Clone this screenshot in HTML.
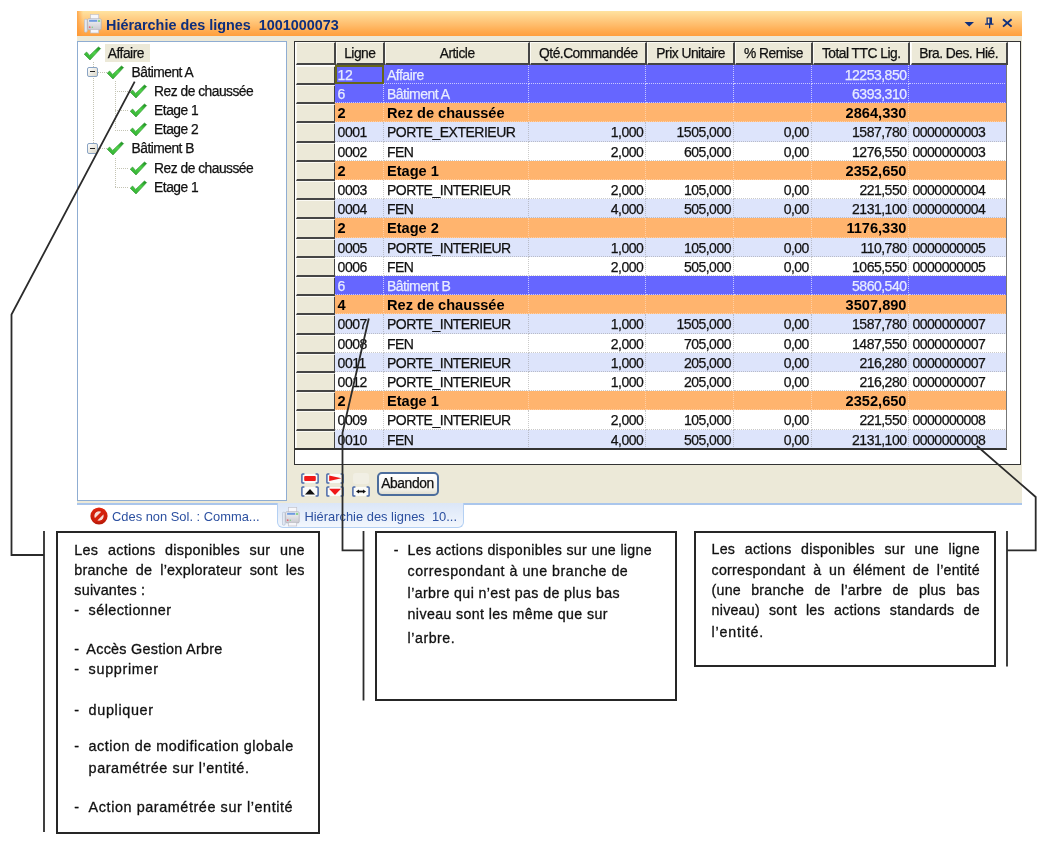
<!DOCTYPE html>
<html lang="fr"><head><meta charset="utf-8"><title>Hiérarchie des lignes</title>
<style>
html,body{margin:0;padding:0;background:#fff;}
body{width:1044px;height:842px;position:relative;overflow:hidden;font-family:"Liberation Sans",sans-serif;}
.a{position:absolute;}
.t{position:absolute;white-space:nowrap;font-size:13px;line-height:19px;color:#111;}
.hd{position:absolute;background:#ece9d8;box-sizing:border-box;border-style:solid;border-width:1px 2px 2px 1px;border-color:#fbfaf4 #454545 #454545 #fbfaf4;text-align:center;font-size:13.8px;letter-spacing:-0.5px;-webkit-text-stroke:0.25px;line-height:22.5px;color:#111;white-space:nowrap;}
.rh{position:absolute;background:#ece9d8;box-sizing:border-box;border-style:solid;border-width:1px 2px 2px 1px;border-color:#fbfaf4 #454545 #454545 #fbfaf4;}
.c{position:absolute;box-sizing:border-box;font-size:14px;letter-spacing:-0.5px;-webkit-text-stroke:0.25px;line-height:20.5px;white-space:nowrap;overflow:hidden;border-right:1px dotted rgba(150,150,150,.5);border-bottom:1px dotted rgba(150,150,150,.5);}
.blue{background:#6666ff;color:#e8ecff;}
.blue .c{border-color:rgba(225,225,255,.8);}
.orange{background:#ffb46e;color:#000;font-weight:bold;}
.orange .c{border-color:rgba(255,225,200,.6);font-size:14.6px;letter-spacing:0;-webkit-text-stroke:0;line-height:21px;}
.alt{background:#dde4fb;color:#111;}
.wht{background:#fff;color:#111;}
.r{text-align:right;}
.cal{position:absolute;white-space:nowrap;font-size:14.2px;letter-spacing:0.4px;line-height:20px;color:#111;-webkit-text-stroke:0.3px;}
.j{text-align:justify;text-align-last:justify;}
.box{position:absolute;box-sizing:border-box;border:2px solid #262626;background:#fff;}
.tr{position:absolute;white-space:nowrap;font-size:13.8px;letter-spacing:-0.5px;-webkit-text-stroke:0.25px;line-height:19px;color:#111;}
</style></head><body>

<div class="a" style="left:77px;top:10.5px;width:945px;height:25.5px;background:linear-gradient(#ffe3a0 0%,#ffd38c 22%,#ffbd6c 55%,#ffa84a 85%,#ff9f3e 100%);"></div>
<div class="a" style="left:106px;top:14.5px;font-weight:bold;font-size:14.4px;line-height:20px;color:#0f2f7c;white-space:pre;" id="ttl">Hiérarchie des lignes  1001000073</div>
<div class="a" style="left:77px;top:10.5px;width:6px;height:25.5px;background:linear-gradient(90deg,rgba(255,150,50,.75),rgba(255,150,50,0));"></div>
<div class="a" style="left:77px;top:36px;width:945px;height:467.4px;background:#ece9d8;"></div>
<div class="a" style="left:77px;top:503.2px;width:945px;height:2px;background:#aac6ec;"></div>
<div class="a" style="left:77px;top:40.5px;width:210.3px;height:460.5px;box-sizing:border-box;border:1.5px solid #8fadd2;background:#fff;"></div>
<div class="a" style="left:294px;top:41px;width:727px;height:424px;box-sizing:border-box;border:1.5px solid #333;background:#fff;"></div>
<div class="rh" style="left:295.5px;top:42.0px;width:40.1px;height:23.3px;"></div>
<div class="hd" style="left:335.6px;top:42.0px;width:49.4px;height:23.3px;">Ligne</div>
<div class="hd" style="left:385.0px;top:42.0px;width:145.3px;height:23.3px;">Article</div>
<div class="hd" style="left:530.3px;top:42.0px;width:117.1px;height:23.3px;">Qté.Commandée</div>
<div class="hd" style="left:647.4px;top:42.0px;width:87.6px;height:23.3px;">Prix Unitaire</div>
<div class="hd" style="left:735.0px;top:42.0px;width:77.9px;height:23.3px;">% Remise</div>
<div class="hd" style="left:812.9px;top:42.0px;width:97.6px;height:23.3px;">Total TTC Lig.</div>
<div class="hd" style="left:910.5px;top:42.0px;width:97.3px;height:23.3px;">Bra. Des. Hié.</div>
<div class="rh" style="left:295.5px;top:65.80px;width:40.1px;height:19.20px;"></div>
<div class="a blue" style="left:334.6px;top:64.80px;width:672.2px;height:19.20px;">
<div class="c" style="left:0.0px;top:0;width:49.4px;height:19.20px;padding-left:3px;">12</div>
<div class="c" style="left:49.4px;top:0;width:145.3px;height:19.20px;padding-left:3px;">Affaire</div>
<div class="c r" style="left:194.7px;top:0;width:117.1px;height:19.20px;padding-right:2px;"></div>
<div class="c r" style="left:311.8px;top:0;width:87.6px;height:19.20px;padding-right:2px;"></div>
<div class="c r" style="left:399.4px;top:0;width:77.9px;height:19.20px;padding-right:2px;"></div>
<div class="c r" style="left:477.3px;top:0;width:97.6px;height:19.20px;padding-right:2px;">12253,850</div>
<div class="c" style="left:574.9px;top:0;width:97.3px;height:19.20px;padding-left:3px;"></div>
</div>
<div class="rh" style="left:295.5px;top:85.00px;width:40.1px;height:19.20px;"></div>
<div class="a blue" style="left:334.6px;top:84.00px;width:672.2px;height:19.20px;">
<div class="c" style="left:0.0px;top:0;width:49.4px;height:19.20px;padding-left:3px;">6</div>
<div class="c" style="left:49.4px;top:0;width:145.3px;height:19.20px;padding-left:3px;">Bâtiment A</div>
<div class="c r" style="left:194.7px;top:0;width:117.1px;height:19.20px;padding-right:2px;"></div>
<div class="c r" style="left:311.8px;top:0;width:87.6px;height:19.20px;padding-right:2px;"></div>
<div class="c r" style="left:399.4px;top:0;width:77.9px;height:19.20px;padding-right:2px;"></div>
<div class="c r" style="left:477.3px;top:0;width:97.6px;height:19.20px;padding-right:2px;">6393,310</div>
<div class="c" style="left:574.9px;top:0;width:97.3px;height:19.20px;padding-left:3px;"></div>
</div>
<div class="rh" style="left:295.5px;top:104.20px;width:40.1px;height:19.20px;"></div>
<div class="a orange" style="left:334.6px;top:103.20px;width:672.2px;height:19.20px;">
<div class="c" style="left:0.0px;top:0;width:49.4px;height:19.20px;padding-left:3px;">2</div>
<div class="c" style="left:49.4px;top:0;width:145.3px;height:19.20px;padding-left:3px;">Rez de chaussée</div>
<div class="c r" style="left:194.7px;top:0;width:117.1px;height:19.20px;padding-right:2px;"></div>
<div class="c r" style="left:311.8px;top:0;width:87.6px;height:19.20px;padding-right:2px;"></div>
<div class="c r" style="left:399.4px;top:0;width:77.9px;height:19.20px;padding-right:2px;"></div>
<div class="c r" style="left:477.3px;top:0;width:97.6px;height:19.20px;padding-right:2px;">2864,330</div>
<div class="c" style="left:574.9px;top:0;width:97.3px;height:19.20px;padding-left:3px;"></div>
</div>
<div class="rh" style="left:295.5px;top:123.40px;width:40.1px;height:19.20px;"></div>
<div class="a alt" style="left:334.6px;top:122.40px;width:672.2px;height:19.20px;">
<div class="c" style="left:0.0px;top:0;width:49.4px;height:19.20px;padding-left:3px;">0001</div>
<div class="c" style="left:49.4px;top:0;width:145.3px;height:19.20px;padding-left:3px;">PORTE_EXTERIEUR</div>
<div class="c r" style="left:194.7px;top:0;width:117.1px;height:19.20px;padding-right:2px;">1,000</div>
<div class="c r" style="left:311.8px;top:0;width:87.6px;height:19.20px;padding-right:2px;">1505,000</div>
<div class="c r" style="left:399.4px;top:0;width:77.9px;height:19.20px;padding-right:2px;">0,00</div>
<div class="c r" style="left:477.3px;top:0;width:97.6px;height:19.20px;padding-right:2px;">1587,780</div>
<div class="c" style="left:574.9px;top:0;width:97.3px;height:19.20px;padding-left:3px;">0000000003</div>
</div>
<div class="rh" style="left:295.5px;top:142.60px;width:40.1px;height:19.20px;"></div>
<div class="a wht" style="left:334.6px;top:141.60px;width:672.2px;height:19.20px;">
<div class="c" style="left:0.0px;top:0;width:49.4px;height:19.20px;padding-left:3px;">0002</div>
<div class="c" style="left:49.4px;top:0;width:145.3px;height:19.20px;padding-left:3px;">FEN</div>
<div class="c r" style="left:194.7px;top:0;width:117.1px;height:19.20px;padding-right:2px;">2,000</div>
<div class="c r" style="left:311.8px;top:0;width:87.6px;height:19.20px;padding-right:2px;">605,000</div>
<div class="c r" style="left:399.4px;top:0;width:77.9px;height:19.20px;padding-right:2px;">0,00</div>
<div class="c r" style="left:477.3px;top:0;width:97.6px;height:19.20px;padding-right:2px;">1276,550</div>
<div class="c" style="left:574.9px;top:0;width:97.3px;height:19.20px;padding-left:3px;">0000000003</div>
</div>
<div class="rh" style="left:295.5px;top:161.80px;width:40.1px;height:19.20px;"></div>
<div class="a orange" style="left:334.6px;top:160.80px;width:672.2px;height:19.20px;">
<div class="c" style="left:0.0px;top:0;width:49.4px;height:19.20px;padding-left:3px;">2</div>
<div class="c" style="left:49.4px;top:0;width:145.3px;height:19.20px;padding-left:3px;">Etage 1</div>
<div class="c r" style="left:194.7px;top:0;width:117.1px;height:19.20px;padding-right:2px;"></div>
<div class="c r" style="left:311.8px;top:0;width:87.6px;height:19.20px;padding-right:2px;"></div>
<div class="c r" style="left:399.4px;top:0;width:77.9px;height:19.20px;padding-right:2px;"></div>
<div class="c r" style="left:477.3px;top:0;width:97.6px;height:19.20px;padding-right:2px;">2352,650</div>
<div class="c" style="left:574.9px;top:0;width:97.3px;height:19.20px;padding-left:3px;"></div>
</div>
<div class="rh" style="left:295.5px;top:181.00px;width:40.1px;height:19.20px;"></div>
<div class="a wht" style="left:334.6px;top:180.00px;width:672.2px;height:19.20px;">
<div class="c" style="left:0.0px;top:0;width:49.4px;height:19.20px;padding-left:3px;">0003</div>
<div class="c" style="left:49.4px;top:0;width:145.3px;height:19.20px;padding-left:3px;">PORTE_INTERIEUR</div>
<div class="c r" style="left:194.7px;top:0;width:117.1px;height:19.20px;padding-right:2px;">2,000</div>
<div class="c r" style="left:311.8px;top:0;width:87.6px;height:19.20px;padding-right:2px;">105,000</div>
<div class="c r" style="left:399.4px;top:0;width:77.9px;height:19.20px;padding-right:2px;">0,00</div>
<div class="c r" style="left:477.3px;top:0;width:97.6px;height:19.20px;padding-right:2px;">221,550</div>
<div class="c" style="left:574.9px;top:0;width:97.3px;height:19.20px;padding-left:3px;">0000000004</div>
</div>
<div class="rh" style="left:295.5px;top:200.20px;width:40.1px;height:19.20px;"></div>
<div class="a alt" style="left:334.6px;top:199.20px;width:672.2px;height:19.20px;">
<div class="c" style="left:0.0px;top:0;width:49.4px;height:19.20px;padding-left:3px;">0004</div>
<div class="c" style="left:49.4px;top:0;width:145.3px;height:19.20px;padding-left:3px;">FEN</div>
<div class="c r" style="left:194.7px;top:0;width:117.1px;height:19.20px;padding-right:2px;">4,000</div>
<div class="c r" style="left:311.8px;top:0;width:87.6px;height:19.20px;padding-right:2px;">505,000</div>
<div class="c r" style="left:399.4px;top:0;width:77.9px;height:19.20px;padding-right:2px;">0,00</div>
<div class="c r" style="left:477.3px;top:0;width:97.6px;height:19.20px;padding-right:2px;">2131,100</div>
<div class="c" style="left:574.9px;top:0;width:97.3px;height:19.20px;padding-left:3px;">0000000004</div>
</div>
<div class="rh" style="left:295.5px;top:219.40px;width:40.1px;height:19.20px;"></div>
<div class="a orange" style="left:334.6px;top:218.40px;width:672.2px;height:19.20px;">
<div class="c" style="left:0.0px;top:0;width:49.4px;height:19.20px;padding-left:3px;">2</div>
<div class="c" style="left:49.4px;top:0;width:145.3px;height:19.20px;padding-left:3px;">Etage 2</div>
<div class="c r" style="left:194.7px;top:0;width:117.1px;height:19.20px;padding-right:2px;"></div>
<div class="c r" style="left:311.8px;top:0;width:87.6px;height:19.20px;padding-right:2px;"></div>
<div class="c r" style="left:399.4px;top:0;width:77.9px;height:19.20px;padding-right:2px;"></div>
<div class="c r" style="left:477.3px;top:0;width:97.6px;height:19.20px;padding-right:2px;">1176,330</div>
<div class="c" style="left:574.9px;top:0;width:97.3px;height:19.20px;padding-left:3px;"></div>
</div>
<div class="rh" style="left:295.5px;top:238.60px;width:40.1px;height:19.20px;"></div>
<div class="a alt" style="left:334.6px;top:237.60px;width:672.2px;height:19.20px;">
<div class="c" style="left:0.0px;top:0;width:49.4px;height:19.20px;padding-left:3px;">0005</div>
<div class="c" style="left:49.4px;top:0;width:145.3px;height:19.20px;padding-left:3px;">PORTE_INTERIEUR</div>
<div class="c r" style="left:194.7px;top:0;width:117.1px;height:19.20px;padding-right:2px;">1,000</div>
<div class="c r" style="left:311.8px;top:0;width:87.6px;height:19.20px;padding-right:2px;">105,000</div>
<div class="c r" style="left:399.4px;top:0;width:77.9px;height:19.20px;padding-right:2px;">0,00</div>
<div class="c r" style="left:477.3px;top:0;width:97.6px;height:19.20px;padding-right:2px;">110,780</div>
<div class="c" style="left:574.9px;top:0;width:97.3px;height:19.20px;padding-left:3px;">0000000005</div>
</div>
<div class="rh" style="left:295.5px;top:257.80px;width:40.1px;height:19.20px;"></div>
<div class="a wht" style="left:334.6px;top:256.80px;width:672.2px;height:19.20px;">
<div class="c" style="left:0.0px;top:0;width:49.4px;height:19.20px;padding-left:3px;">0006</div>
<div class="c" style="left:49.4px;top:0;width:145.3px;height:19.20px;padding-left:3px;">FEN</div>
<div class="c r" style="left:194.7px;top:0;width:117.1px;height:19.20px;padding-right:2px;">2,000</div>
<div class="c r" style="left:311.8px;top:0;width:87.6px;height:19.20px;padding-right:2px;">505,000</div>
<div class="c r" style="left:399.4px;top:0;width:77.9px;height:19.20px;padding-right:2px;">0,00</div>
<div class="c r" style="left:477.3px;top:0;width:97.6px;height:19.20px;padding-right:2px;">1065,550</div>
<div class="c" style="left:574.9px;top:0;width:97.3px;height:19.20px;padding-left:3px;">0000000005</div>
</div>
<div class="rh" style="left:295.5px;top:277.00px;width:40.1px;height:19.20px;"></div>
<div class="a blue" style="left:334.6px;top:276.00px;width:672.2px;height:19.20px;">
<div class="c" style="left:0.0px;top:0;width:49.4px;height:19.20px;padding-left:3px;">6</div>
<div class="c" style="left:49.4px;top:0;width:145.3px;height:19.20px;padding-left:3px;">Bâtiment B</div>
<div class="c r" style="left:194.7px;top:0;width:117.1px;height:19.20px;padding-right:2px;"></div>
<div class="c r" style="left:311.8px;top:0;width:87.6px;height:19.20px;padding-right:2px;"></div>
<div class="c r" style="left:399.4px;top:0;width:77.9px;height:19.20px;padding-right:2px;"></div>
<div class="c r" style="left:477.3px;top:0;width:97.6px;height:19.20px;padding-right:2px;">5860,540</div>
<div class="c" style="left:574.9px;top:0;width:97.3px;height:19.20px;padding-left:3px;"></div>
</div>
<div class="rh" style="left:295.5px;top:296.20px;width:40.1px;height:19.20px;"></div>
<div class="a orange" style="left:334.6px;top:295.20px;width:672.2px;height:19.20px;">
<div class="c" style="left:0.0px;top:0;width:49.4px;height:19.20px;padding-left:3px;">4</div>
<div class="c" style="left:49.4px;top:0;width:145.3px;height:19.20px;padding-left:3px;">Rez de chaussée</div>
<div class="c r" style="left:194.7px;top:0;width:117.1px;height:19.20px;padding-right:2px;"></div>
<div class="c r" style="left:311.8px;top:0;width:87.6px;height:19.20px;padding-right:2px;"></div>
<div class="c r" style="left:399.4px;top:0;width:77.9px;height:19.20px;padding-right:2px;"></div>
<div class="c r" style="left:477.3px;top:0;width:97.6px;height:19.20px;padding-right:2px;">3507,890</div>
<div class="c" style="left:574.9px;top:0;width:97.3px;height:19.20px;padding-left:3px;"></div>
</div>
<div class="rh" style="left:295.5px;top:315.40px;width:40.1px;height:19.20px;"></div>
<div class="a alt" style="left:334.6px;top:314.40px;width:672.2px;height:19.20px;">
<div class="c" style="left:0.0px;top:0;width:49.4px;height:19.20px;padding-left:3px;">0007</div>
<div class="c" style="left:49.4px;top:0;width:145.3px;height:19.20px;padding-left:3px;">PORTE_INTERIEUR</div>
<div class="c r" style="left:194.7px;top:0;width:117.1px;height:19.20px;padding-right:2px;">1,000</div>
<div class="c r" style="left:311.8px;top:0;width:87.6px;height:19.20px;padding-right:2px;">1505,000</div>
<div class="c r" style="left:399.4px;top:0;width:77.9px;height:19.20px;padding-right:2px;">0,00</div>
<div class="c r" style="left:477.3px;top:0;width:97.6px;height:19.20px;padding-right:2px;">1587,780</div>
<div class="c" style="left:574.9px;top:0;width:97.3px;height:19.20px;padding-left:3px;">0000000007</div>
</div>
<div class="rh" style="left:295.5px;top:334.60px;width:40.1px;height:19.20px;"></div>
<div class="a wht" style="left:334.6px;top:333.60px;width:672.2px;height:19.20px;">
<div class="c" style="left:0.0px;top:0;width:49.4px;height:19.20px;padding-left:3px;">0008</div>
<div class="c" style="left:49.4px;top:0;width:145.3px;height:19.20px;padding-left:3px;">FEN</div>
<div class="c r" style="left:194.7px;top:0;width:117.1px;height:19.20px;padding-right:2px;">2,000</div>
<div class="c r" style="left:311.8px;top:0;width:87.6px;height:19.20px;padding-right:2px;">705,000</div>
<div class="c r" style="left:399.4px;top:0;width:77.9px;height:19.20px;padding-right:2px;">0,00</div>
<div class="c r" style="left:477.3px;top:0;width:97.6px;height:19.20px;padding-right:2px;">1487,550</div>
<div class="c" style="left:574.9px;top:0;width:97.3px;height:19.20px;padding-left:3px;">0000000007</div>
</div>
<div class="rh" style="left:295.5px;top:353.80px;width:40.1px;height:19.20px;"></div>
<div class="a alt" style="left:334.6px;top:352.80px;width:672.2px;height:19.20px;">
<div class="c" style="left:0.0px;top:0;width:49.4px;height:19.20px;padding-left:3px;">0011</div>
<div class="c" style="left:49.4px;top:0;width:145.3px;height:19.20px;padding-left:3px;">PORTE_INTERIEUR</div>
<div class="c r" style="left:194.7px;top:0;width:117.1px;height:19.20px;padding-right:2px;">1,000</div>
<div class="c r" style="left:311.8px;top:0;width:87.6px;height:19.20px;padding-right:2px;">205,000</div>
<div class="c r" style="left:399.4px;top:0;width:77.9px;height:19.20px;padding-right:2px;">0,00</div>
<div class="c r" style="left:477.3px;top:0;width:97.6px;height:19.20px;padding-right:2px;">216,280</div>
<div class="c" style="left:574.9px;top:0;width:97.3px;height:19.20px;padding-left:3px;">0000000007</div>
</div>
<div class="rh" style="left:295.5px;top:373.00px;width:40.1px;height:19.20px;"></div>
<div class="a wht" style="left:334.6px;top:372.00px;width:672.2px;height:19.20px;">
<div class="c" style="left:0.0px;top:0;width:49.4px;height:19.20px;padding-left:3px;">0012</div>
<div class="c" style="left:49.4px;top:0;width:145.3px;height:19.20px;padding-left:3px;">PORTE_INTERIEUR</div>
<div class="c r" style="left:194.7px;top:0;width:117.1px;height:19.20px;padding-right:2px;">1,000</div>
<div class="c r" style="left:311.8px;top:0;width:87.6px;height:19.20px;padding-right:2px;">205,000</div>
<div class="c r" style="left:399.4px;top:0;width:77.9px;height:19.20px;padding-right:2px;">0,00</div>
<div class="c r" style="left:477.3px;top:0;width:97.6px;height:19.20px;padding-right:2px;">216,280</div>
<div class="c" style="left:574.9px;top:0;width:97.3px;height:19.20px;padding-left:3px;">0000000007</div>
</div>
<div class="rh" style="left:295.5px;top:392.20px;width:40.1px;height:19.20px;"></div>
<div class="a orange" style="left:334.6px;top:391.20px;width:672.2px;height:19.20px;">
<div class="c" style="left:0.0px;top:0;width:49.4px;height:19.20px;padding-left:3px;">2</div>
<div class="c" style="left:49.4px;top:0;width:145.3px;height:19.20px;padding-left:3px;">Etage 1</div>
<div class="c r" style="left:194.7px;top:0;width:117.1px;height:19.20px;padding-right:2px;"></div>
<div class="c r" style="left:311.8px;top:0;width:87.6px;height:19.20px;padding-right:2px;"></div>
<div class="c r" style="left:399.4px;top:0;width:77.9px;height:19.20px;padding-right:2px;"></div>
<div class="c r" style="left:477.3px;top:0;width:97.6px;height:19.20px;padding-right:2px;">2352,650</div>
<div class="c" style="left:574.9px;top:0;width:97.3px;height:19.20px;padding-left:3px;"></div>
</div>
<div class="rh" style="left:295.5px;top:411.40px;width:40.1px;height:19.20px;"></div>
<div class="a wht" style="left:334.6px;top:410.40px;width:672.2px;height:19.20px;">
<div class="c" style="left:0.0px;top:0;width:49.4px;height:19.20px;padding-left:3px;">0009</div>
<div class="c" style="left:49.4px;top:0;width:145.3px;height:19.20px;padding-left:3px;">PORTE_INTERIEUR</div>
<div class="c r" style="left:194.7px;top:0;width:117.1px;height:19.20px;padding-right:2px;">2,000</div>
<div class="c r" style="left:311.8px;top:0;width:87.6px;height:19.20px;padding-right:2px;">105,000</div>
<div class="c r" style="left:399.4px;top:0;width:77.9px;height:19.20px;padding-right:2px;">0,00</div>
<div class="c r" style="left:477.3px;top:0;width:97.6px;height:19.20px;padding-right:2px;">221,550</div>
<div class="c" style="left:574.9px;top:0;width:97.3px;height:19.20px;padding-left:3px;">0000000008</div>
</div>
<div class="rh" style="left:295.5px;top:430.60px;width:40.1px;height:19.20px;"></div>
<div class="a alt" style="left:334.6px;top:429.60px;width:672.2px;height:19.20px;">
<div class="c" style="left:0.0px;top:0;width:49.4px;height:19.20px;padding-left:3px;">0010</div>
<div class="c" style="left:49.4px;top:0;width:145.3px;height:19.20px;padding-left:3px;">FEN</div>
<div class="c r" style="left:194.7px;top:0;width:117.1px;height:19.20px;padding-right:2px;">4,000</div>
<div class="c r" style="left:311.8px;top:0;width:87.6px;height:19.20px;padding-right:2px;">505,000</div>
<div class="c r" style="left:399.4px;top:0;width:77.9px;height:19.20px;padding-right:2px;">0,00</div>
<div class="c r" style="left:477.3px;top:0;width:97.6px;height:19.20px;padding-right:2px;">2131,100</div>
<div class="c" style="left:574.9px;top:0;width:97.3px;height:19.20px;padding-left:3px;">0000000008</div>
</div>
<div class="a" style="left:294.5px;top:448.3px;width:712.3px;height:1.5px;background:#333;"></div>
<div class="a" style="left:1006.3px;top:64.8px;width:1px;height:384.0px;background:#777;"></div>
<div class="a" style="left:334.6px;top:64.8px;width:49.4px;height:19.2px;box-sizing:border-box;border:2px solid #66661a;"></div>
<div class="a" style="left:104.5px;top:44.2px;width:45.5px;height:17.8px;background:#ece9d8;"></div>
<div class="a" style="left:92.5px;top:62px;width:1px;height:86px;background:repeating-linear-gradient(180deg,#c4c4b4 0 1px,transparent 1px 2px);"></div>
<div class="a" style="left:115px;top:81px;width:1px;height:48px;background:repeating-linear-gradient(180deg,#c4c4b4 0 1px,transparent 1px 2px);"></div>
<div class="a" style="left:115px;top:158px;width:1px;height:29px;background:repeating-linear-gradient(180deg,#c4c4b4 0 1px,transparent 1px 2px);"></div>
<div class="a" style="left:98px;top:71.8px;width:9px;height:1px;background:repeating-linear-gradient(90deg,#c4c4b4 0 1px,transparent 1px 2px);"></div>
<div class="a" style="left:115px;top:91.0px;width:14px;height:1px;background:repeating-linear-gradient(90deg,#c4c4b4 0 1px,transparent 1px 2px);"></div>
<div class="a" style="left:115px;top:110.3px;width:14px;height:1px;background:repeating-linear-gradient(90deg,#c4c4b4 0 1px,transparent 1px 2px);"></div>
<div class="a" style="left:115px;top:129.6px;width:14px;height:1px;background:repeating-linear-gradient(90deg,#c4c4b4 0 1px,transparent 1px 2px);"></div>
<div class="a" style="left:98px;top:148.4px;width:9px;height:1px;background:repeating-linear-gradient(90deg,#c4c4b4 0 1px,transparent 1px 2px);"></div>
<div class="a" style="left:115px;top:167.9px;width:14px;height:1px;background:repeating-linear-gradient(90deg,#c4c4b4 0 1px,transparent 1px 2px);"></div>
<div class="a" style="left:115px;top:187.1px;width:14px;height:1px;background:repeating-linear-gradient(90deg,#c4c4b4 0 1px,transparent 1px 2px);"></div>
<svg class="a" style="left:82.5px;top:45.6px;" width="19" height="15" viewBox="0 0 19 15"><defs><linearGradient id="g0" x1="1" y1="0" x2="0.2" y2="1"><stop offset="0" stop-color="#128a18"/><stop offset="0.45" stop-color="#4fd24a"/><stop offset="1" stop-color="#2fae2f"/></linearGradient></defs><path d="M1.2 8.2 L3.6 6.0 L6.6 9.4 L15.4 1.0 L17.6 2.6 L7.0 14.0 Z" fill="url(#g0)" stroke="#2a8f2a" stroke-width="0.6" stroke-linejoin="round"/></svg>
<div class="tr" style="left:107.8px;top:43.6px;">Affaire</div>
<svg class="a" style="left:105.5px;top:64.5px;" width="19" height="15" viewBox="0 0 19 15"><defs><linearGradient id="g1" x1="1" y1="0" x2="0.2" y2="1"><stop offset="0" stop-color="#128a18"/><stop offset="0.45" stop-color="#4fd24a"/><stop offset="1" stop-color="#2fae2f"/></linearGradient></defs><path d="M1.2 8.2 L3.6 6.0 L6.6 9.4 L15.4 1.0 L17.6 2.6 L7.0 14.0 Z" fill="url(#g1)" stroke="#2a8f2a" stroke-width="0.6" stroke-linejoin="round"/></svg>
<div class="tr" style="left:131.5px;top:62.5px;">Bâtiment A</div>
<div class="a" style="left:87.3px;top:66.5px;width:10.6px;height:10.6px;box-sizing:border-box;border:1px solid #8aa4c4;border-radius:2px;background:linear-gradient(135deg,#fff,#d9d6c8);"></div>
<div class="a" style="left:89.8px;top:71.2px;width:5.6px;height:1.3px;background:#222;"></div>
<svg class="a" style="left:128.5px;top:83.7px;" width="19" height="15" viewBox="0 0 19 15"><defs><linearGradient id="g2" x1="1" y1="0" x2="0.2" y2="1"><stop offset="0" stop-color="#128a18"/><stop offset="0.45" stop-color="#4fd24a"/><stop offset="1" stop-color="#2fae2f"/></linearGradient></defs><path d="M1.2 8.2 L3.6 6.0 L6.6 9.4 L15.4 1.0 L17.6 2.6 L7.0 14.0 Z" fill="url(#g2)" stroke="#2a8f2a" stroke-width="0.6" stroke-linejoin="round"/></svg>
<div class="tr" style="left:154.1px;top:81.7px;">Rez de chaussée</div>
<svg class="a" style="left:128.5px;top:103.0px;" width="19" height="15" viewBox="0 0 19 15"><defs><linearGradient id="g3" x1="1" y1="0" x2="0.2" y2="1"><stop offset="0" stop-color="#128a18"/><stop offset="0.45" stop-color="#4fd24a"/><stop offset="1" stop-color="#2fae2f"/></linearGradient></defs><path d="M1.2 8.2 L3.6 6.0 L6.6 9.4 L15.4 1.0 L17.6 2.6 L7.0 14.0 Z" fill="url(#g3)" stroke="#2a8f2a" stroke-width="0.6" stroke-linejoin="round"/></svg>
<div class="tr" style="left:154.1px;top:101.0px;">Etage 1</div>
<svg class="a" style="left:128.5px;top:122.3px;" width="19" height="15" viewBox="0 0 19 15"><defs><linearGradient id="g4" x1="1" y1="0" x2="0.2" y2="1"><stop offset="0" stop-color="#128a18"/><stop offset="0.45" stop-color="#4fd24a"/><stop offset="1" stop-color="#2fae2f"/></linearGradient></defs><path d="M1.2 8.2 L3.6 6.0 L6.6 9.4 L15.4 1.0 L17.6 2.6 L7.0 14.0 Z" fill="url(#g4)" stroke="#2a8f2a" stroke-width="0.6" stroke-linejoin="round"/></svg>
<div class="tr" style="left:154.1px;top:120.3px;">Etage 2</div>
<svg class="a" style="left:105.5px;top:141.1px;" width="19" height="15" viewBox="0 0 19 15"><defs><linearGradient id="g5" x1="1" y1="0" x2="0.2" y2="1"><stop offset="0" stop-color="#128a18"/><stop offset="0.45" stop-color="#4fd24a"/><stop offset="1" stop-color="#2fae2f"/></linearGradient></defs><path d="M1.2 8.2 L3.6 6.0 L6.6 9.4 L15.4 1.0 L17.6 2.6 L7.0 14.0 Z" fill="url(#g5)" stroke="#2a8f2a" stroke-width="0.6" stroke-linejoin="round"/></svg>
<div class="tr" style="left:131.5px;top:139.1px;">Bâtiment B</div>
<div class="a" style="left:87.3px;top:143.1px;width:10.6px;height:10.6px;box-sizing:border-box;border:1px solid #8aa4c4;border-radius:2px;background:linear-gradient(135deg,#fff,#d9d6c8);"></div>
<div class="a" style="left:89.8px;top:147.8px;width:5.6px;height:1.3px;background:#222;"></div>
<svg class="a" style="left:128.5px;top:160.6px;" width="19" height="15" viewBox="0 0 19 15"><defs><linearGradient id="g6" x1="1" y1="0" x2="0.2" y2="1"><stop offset="0" stop-color="#128a18"/><stop offset="0.45" stop-color="#4fd24a"/><stop offset="1" stop-color="#2fae2f"/></linearGradient></defs><path d="M1.2 8.2 L3.6 6.0 L6.6 9.4 L15.4 1.0 L17.6 2.6 L7.0 14.0 Z" fill="url(#g6)" stroke="#2a8f2a" stroke-width="0.6" stroke-linejoin="round"/></svg>
<div class="tr" style="left:154.1px;top:158.6px;">Rez de chaussée</div>
<svg class="a" style="left:128.5px;top:179.8px;" width="19" height="15" viewBox="0 0 19 15"><defs><linearGradient id="g7" x1="1" y1="0" x2="0.2" y2="1"><stop offset="0" stop-color="#128a18"/><stop offset="0.45" stop-color="#4fd24a"/><stop offset="1" stop-color="#2fae2f"/></linearGradient></defs><path d="M1.2 8.2 L3.6 6.0 L6.6 9.4 L15.4 1.0 L17.6 2.6 L7.0 14.0 Z" fill="url(#g7)" stroke="#2a8f2a" stroke-width="0.6" stroke-linejoin="round"/></svg>
<div class="tr" style="left:154.1px;top:177.8px;">Etage 1</div>
<svg class="a" style="left:84.0px;top:14.0px;" width="19" height="20" viewBox="0 0 19 20"><defs><linearGradient id="fx1" x1="0" y1="0" x2="0" y2="1"><stop offset="0" stop-color="#f4f4f6"/><stop offset="1" stop-color="#c9c9cf"/></linearGradient></defs><rect x="0.4" y="5.2" width="2.8" height="13" rx="1.2" fill="#e3e9f2" stroke="#b4c0d4" stroke-width="0.7"/><rect x="6.6" y="0.5" width="8.1" height="5.4" fill="#f7f7fb" stroke="#c3c3cc" stroke-width="0.7"/><rect x="3.6" y="4.7" width="13.6" height="11.2" rx="1.3" fill="url(#fx1)" stroke="#adadb6" stroke-width="0.7"/><rect x="5.1" y="5.8" width="8.1" height="2" fill="#6f9be0"/><rect x="13.9" y="5.8" width="2.3" height="2.2" fill="#8fd28f"/><circle cx="5.7" cy="13.2" r="0.9" fill="#e2687a"/><circle cx="8.3" cy="13.2" r="0.8" fill="#86cc86"/><rect x="6.6" y="15.6" width="8.1" height="3.4" fill="#f5f5f9" stroke="#c0c0c8" stroke-width="0.7"/></svg>
<svg class="a" style="left:962px;top:15px;" width="54" height="15" viewBox="0 0 54 15"><path d="M2.5 7 L12 7 L7.2 11.6 Z" fill="#0f2f7c"/><path d="M24.5 2.5 h5.5 v6 h1.5 v1.2 h-8.5 v-1.2 h1.5 Z M27 9.7 h1.2 v3.6 h-1.2 Z" fill="#0f2f7c"/><rect x="25.8" y="3.6" width="1.6" height="4.6" fill="#ffd9a8"/><path d="M41 4.2 L49.6 11.6 M49.6 4.2 L41 11.6" stroke="#0f2f7c" stroke-width="1.9" fill="none"/></svg>
<svg class="a" style="left:301.0px;top:473.0px;" width="18" height="11" viewBox="0 0 18 11"><rect x="1" y="1" width="16" height="9" rx="1.5" fill="#fbfbf8"/><path d="M3.4 0.9 H1.8 Q0.9 0.9 0.9 1.8 V9.2 Q0.9 10.1 1.8 10.1 H3.4 M14.6 0.9 H16.2 Q17.1 0.9 17.1 1.8 V9.2 Q17.1 10.1 16.2 10.1 H14.6" fill="none" stroke="#4a69a8" stroke-width="1.5"/><rect x="3.2" y="3" width="11.6" height="5" rx="1" fill="#f01818"/></svg>
<svg class="a" style="left:301.0px;top:485.8px;" width="18" height="11" viewBox="0 0 18 11"><rect x="1" y="1" width="16" height="9" rx="1.5" fill="#fbfbf8"/><path d="M3.4 0.9 H1.8 Q0.9 0.9 0.9 1.8 V9.2 Q0.9 10.1 1.8 10.1 H3.4 M14.6 0.9 H16.2 Q17.1 0.9 17.1 1.8 V9.2 Q17.1 10.1 16.2 10.1 H14.6" fill="none" stroke="#4a69a8" stroke-width="1.5"/><path d="M4 8.5 L9 3 L14 8.5 Z" fill="#111"/></svg>
<svg class="a" style="left:325.5px;top:473.0px;" width="18" height="11" viewBox="0 0 18 11"><rect x="1" y="1" width="16" height="9" rx="1.5" fill="#fbfbf8"/><path d="M3.4 0.9 H1.8 Q0.9 0.9 0.9 1.8 V9.2 Q0.9 10.1 1.8 10.1 H3.4 M14.6 0.9 H16.2 Q17.1 0.9 17.1 1.8 V9.2 Q17.1 10.1 16.2 10.1 H14.6" fill="none" stroke="#4a69a8" stroke-width="1.5"/><path d="M3.2 2.6 L15.5 5.2 L3.2 8 Z" fill="#f01818"/></svg>
<svg class="a" style="left:325.5px;top:485.8px;" width="18" height="11" viewBox="0 0 18 11"><rect x="1" y="1" width="16" height="9" rx="1.5" fill="#fbfbf8"/><path d="M3.4 0.9 H1.8 Q0.9 0.9 0.9 1.8 V9.2 Q0.9 10.1 1.8 10.1 H3.4 M14.6 0.9 H16.2 Q17.1 0.9 17.1 1.8 V9.2 Q17.1 10.1 16.2 10.1 H14.6" fill="none" stroke="#4a69a8" stroke-width="1.5"/><path d="M3 2.8 L15 2.8 L9 9 Z" fill="#f01818"/></svg>
<div class="a" style="left:352.5px;top:473px;width:16px;height:10.5px;border-radius:3px;background:#f1efe4;"></div>
<svg class="a" style="left:351.5px;top:485.8px;" width="18" height="11" viewBox="0 0 18 11"><rect x="1" y="1" width="16" height="9" rx="1.5" fill="#fbfbf8"/><path d="M3.4 0.9 H1.8 Q0.9 0.9 0.9 1.8 V9.2 Q0.9 10.1 1.8 10.1 H3.4 M14.6 0.9 H16.2 Q17.1 0.9 17.1 1.8 V9.2 Q17.1 10.1 16.2 10.1 H14.6" fill="none" stroke="#4a69a8" stroke-width="1.5"/><path d="M4 5.5 L7 3.4 L7 7.6 Z M14 5.5 L11 3.4 L11 7.6 Z" fill="#111"/><rect x="7" y="4.6" width="4" height="1.8" fill="#111"/></svg>
<div class="a" style="left:376.5px;top:472.3px;width:62px;height:24px;box-sizing:border-box;border:2px solid #4c6d9c;border-radius:5px;background:linear-gradient(#fff,#f5f4ee 70%,#e2dfd2);text-align:center;font-size:13.8px;letter-spacing:-0.4px;-webkit-text-stroke:0.25px;line-height:20px;color:#111;">Abandon</div>
<div class="a" style="left:276.6px;top:503.2px;width:187.4px;height:25px;box-sizing:border-box;border:1.5px solid #b4d0f3;border-top:none;border-radius:0 0 6px 6px;background:linear-gradient(#dbe6f7,#e6eefa 50%,#f3f7fd);"></div>
<svg class="a" style="left:90.1px;top:507.4px;" width="18" height="18" viewBox="0 0 18 18"><defs><linearGradient id="rg" x1="0" y1="0" x2="0" y2="1"><stop offset="0" stop-color="#e3260e"/><stop offset="1" stop-color="#b51a08"/></linearGradient></defs><circle cx="9" cy="9" r="8.6" fill="url(#rg)"/><circle cx="9" cy="9" r="4.9" fill="#f6dcd6"/><path d="M4.2 14.2 L14.2 4.2" stroke="#d5220d" stroke-width="3.4"/><circle cx="9" cy="9" r="5.6" fill="none" stroke="#d0200c" stroke-width="1.6"/></svg>
<div class="a" style="left:112px;top:507px;font-size:12.9px;line-height:20px;color:#2c50a0;white-space:pre;" id="tab1">Cdes non Sol. : Comma...</div>
<svg class="a" style="left:282.0px;top:506.8px;" width="19" height="20" viewBox="0 0 19 20"><defs><linearGradient id="fx2" x1="0" y1="0" x2="0" y2="1"><stop offset="0" stop-color="#f4f4f6"/><stop offset="1" stop-color="#c9c9cf"/></linearGradient></defs><rect x="0.4" y="5.2" width="2.8" height="13" rx="1.2" fill="#e3e9f2" stroke="#b4c0d4" stroke-width="0.7"/><rect x="6.6" y="0.5" width="8.1" height="5.4" fill="#f7f7fb" stroke="#c3c3cc" stroke-width="0.7"/><rect x="3.6" y="4.7" width="13.6" height="11.2" rx="1.3" fill="url(#fx2)" stroke="#adadb6" stroke-width="0.7"/><rect x="5.1" y="5.8" width="8.1" height="2" fill="#6f9be0"/><rect x="13.9" y="5.8" width="2.3" height="2.2" fill="#8fd28f"/><circle cx="5.7" cy="13.2" r="0.9" fill="#e2687a"/><circle cx="8.3" cy="13.2" r="0.8" fill="#86cc86"/><rect x="6.6" y="15.6" width="8.1" height="3.4" fill="#f5f5f9" stroke="#c0c0c8" stroke-width="0.7"/></svg>
<div class="a" style="left:304.4px;top:507px;font-size:12.9px;line-height:20px;color:#2c50a0;white-space:pre;" id="tab2">Hiérarchie des lignes  10...</div>
<div class="box" style="left:55.8px;top:530.8px;width:264.7px;height:302.8px;"></div>
<div class="box" style="left:374.9px;top:530.8px;width:302.1px;height:170.2px;"></div>
<div class="box" style="left:693.6px;top:530.8px;width:302.8px;height:136.1px;"></div>
<div class="cal j" style="left:74.3px;top:539.5px;font-size:14.4px;width:230.5px;letter-spacing:0.25px;">Les actions disponibles sur une</div>
<div class="cal j" style="left:74.3px;top:559.5px;font-size:14.4px;width:230.5px;letter-spacing:0.25px;">branche de l’explorateur sont les</div>
<div class="cal" style="left:74.3px;top:579.5px;font-size:14.4px;letter-spacing:0.19px;">suivantes :</div>
<div class="cal" style="left:74.3px;top:600.1px;font-size:14.4px;">-</div>
<div class="cal" style="left:88.6px;top:600.1px;font-size:14.4px;letter-spacing:0.43px;">sélectionner</div>
<div class="cal" style="left:74.3px;top:639.1px;font-size:14.4px;">-</div>
<div class="cal" style="left:86.3px;top:639.1px;font-size:14.4px;letter-spacing:0.27px;">Accès Gestion Arbre</div>
<div class="cal" style="left:74.3px;top:659.3px;font-size:14.4px;">-</div>
<div class="cal" style="left:88.6px;top:659.3px;font-size:14.4px;letter-spacing:0.67px;">supprimer</div>
<div class="cal" style="left:74.3px;top:699.5px;font-size:14.4px;">-</div>
<div class="cal" style="left:88.6px;top:699.5px;font-size:14.4px;letter-spacing:0.66px;">dupliquer</div>
<div class="cal" style="left:74.3px;top:736.1px;font-size:14.4px;">-</div>
<div class="cal" style="left:88.6px;top:736.1px;font-size:14.4px;letter-spacing:0.52px;">action de modification globale</div>
<div class="cal" style="left:74.3px;top:797.3px;font-size:14.4px;">-</div>
<div class="cal" style="left:88.6px;top:797.3px;font-size:14.4px;letter-spacing:0.58px;">Action paramétrée sur l’entité</div>
<div class="cal" style="left:88.6px;top:758.4px;font-size:14.4px;letter-spacing:0.57px;">paramétrée sur l’entité.</div>
<div class="cal" style="left:393.8px;top:539.8px;">-</div>
<div class="cal" style="left:407.6px;top:539.8px;letter-spacing:0.34px;">Les actions disponibles sur une ligne</div>
<div class="cal" style="left:407.6px;top:561.2px;letter-spacing:0.52px;">correspondant à une branche de</div>
<div class="cal" style="left:407.6px;top:582.9px;letter-spacing:0.39px;">l’arbre qui n’est pas de plus bas</div>
<div class="cal" style="left:407.6px;top:604.3px;letter-spacing:0.39px;">niveau sont les même que sur</div>
<div class="cal" style="left:407.6px;top:627.8px;letter-spacing:0.54px;">l’arbre.</div>
<div class="cal j" style="left:711.6px;top:539.2px;width:268.2px;letter-spacing:0.25px;">Les actions disponibles sur une ligne</div>
<div class="cal j" style="left:711.6px;top:559.8px;width:268.2px;letter-spacing:0.25px;">correspondant à un élément de l’entité</div>
<div class="cal j" style="left:711.6px;top:580.2px;width:268.2px;letter-spacing:0.25px;">(une branche de l’arbre de plus bas</div>
<div class="cal j" style="left:711.6px;top:600.2px;width:268.2px;letter-spacing:0.25px;">niveau) sont les actions standards de</div>
<div class="cal" style="left:711.6px;top:621.5px;letter-spacing:0.84px;">l’entité.</div>
<svg class="a" style="left:0;top:0;" width="1044" height="842" viewBox="0 0 1044 842"><g fill="none" stroke="#2b2b2b" stroke-width="1.8"><path d="M134.7 81.6 L11.5 314.5 L11.5 555 L44 555"/><path d="M44 531 L44 832"/><path d="M368.8 318.5 L342.5 432.8 L342.5 550.3 L363.5 550.3"/><path d="M363.5 531 L363.5 700.5"/><path d="M977 446 L1035.7 497 L1035.7 550.3 L1007 550.3"/><path d="M1007 531 L1007 666.5"/></g></svg>
</body></html>
